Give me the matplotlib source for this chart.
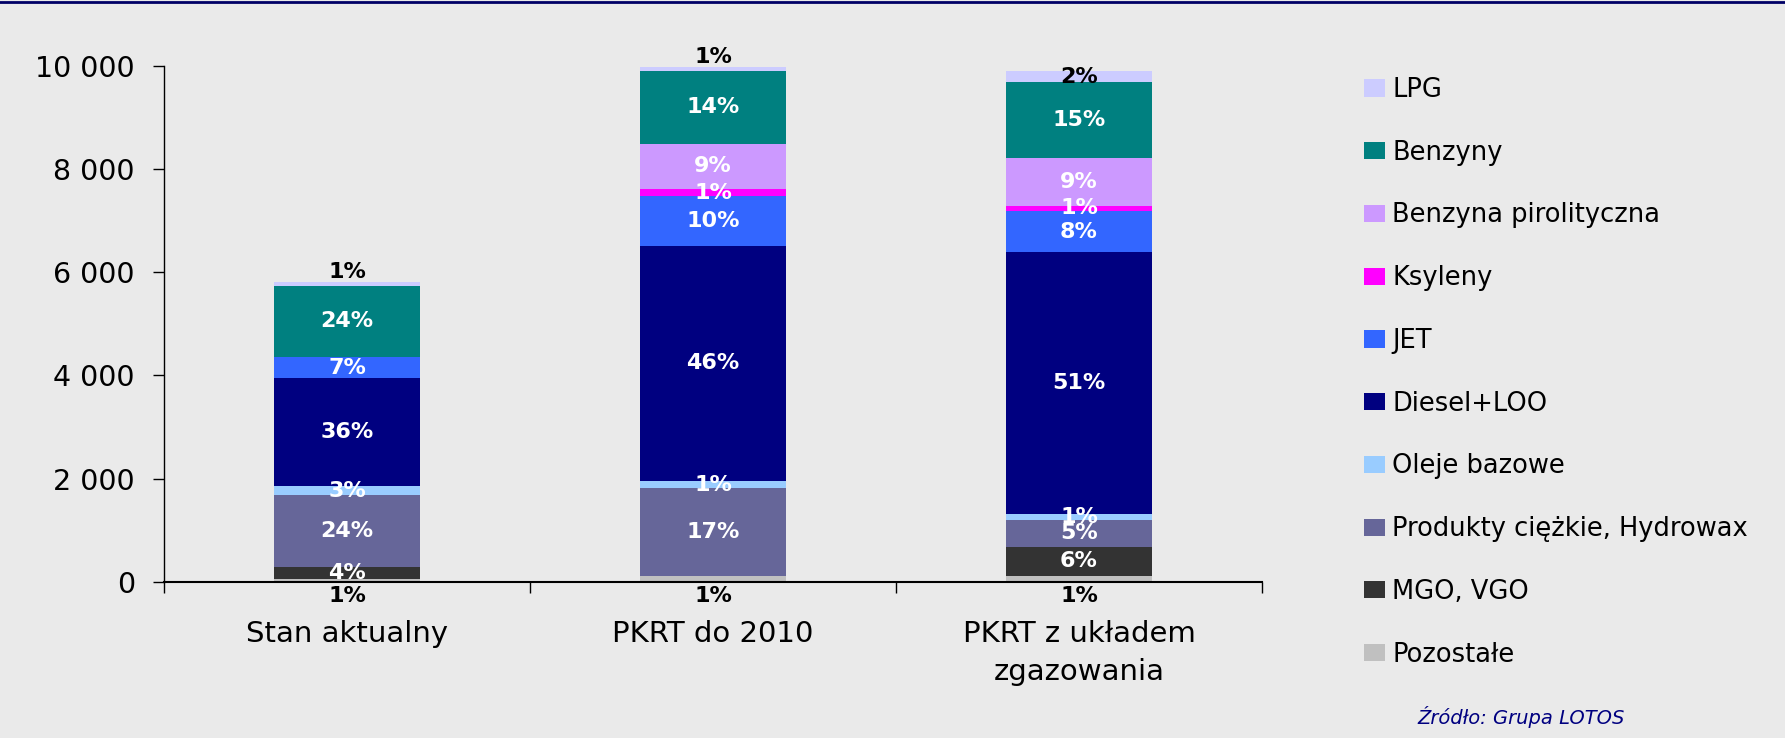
import matplotlib
matplotlib.use("Agg")
import matplotlib.pyplot as plt
import numpy as np
from matplotlib.patches import Patch
from matplotlib.lines import Line2D
from matplotlib.ticker import FuncFormatter

# data, stacked bottom -> top
categories = ["Stan aktualny", "PKRT do 2010", "PKRT z układem\nzgazowania"]
series = ["Pozostałe", "MGO, VGO", "Produkty ciężkie, Hydrowax", "Oleje bazowe",
          "Diesel+LOO", "JET", "Ksyleny", "Benzyna pirolityczna", "Benzyny", "LPG"]
pozostale = [60, 110, 110]
mgo_vgo = [230, 0, 570]
produkty = [1390, 1700, 510]
oleje = [170, 140, 130]
diesel = [2090, 4560, 5060]
jet = [420, 960, 800]
ksyleny = [0, 140, 110]
benz_pirol = [0, 880, 920]
benzyny = [1380, 1400, 1470]
lpg = [60, 80, 220]
colors = ["#c0c0c0", "#333333", "#666699", "#99ccff", "#000080",
          "#3366ff", "#ff00ff", "#cc99ff", "#008080", "#ccccff"]
yticks = [0, 2000, 4000, 6000, 8000, 10000]
source = "Źródło: Grupa LOTOS"

values = np.array([pozostale, mgo_vgo, produkty, oleje, diesel, jet,
                   ksyleny, benz_pirol, benzyny, lpg], dtype=float)
totals = values.sum(axis=0)
bg = "#eaeaea"
lab_fs = 16

fig = plt.figure(figsize=(17.85, 7.38), dpi=100, facecolor=bg)
ax = fig.add_axes([164/1785, 1-581.7/738, (1262-164)/1785, (581.7-65.7)/738])
ax.set_facecolor(bg)

x = np.arange(len(categories))
bottom = np.zeros(len(categories))
for i, name in enumerate(series):
    v = values[i]
    ax.bar(x, v, 0.4, bottom=bottom, color=colors[i], label=name, zorder=2)
    for j in range(len(x)):
        if v[j] <= 0:
            continue
        pct = int(round(v[j] / totals[j] * 100))
        txt = f"{pct}%"
        if name == "Pozostałe":
            ax.annotate(txt, (x[j], 0), xytext=(0, -3), textcoords="offset points",
                        ha="center", va="top", fontsize=lab_fs, fontweight="bold", color="black",
                        annotation_clip=False)
        elif name == "LPG":
            if pct < 2:
                ax.annotate(txt, (x[j], bottom[j] + v[j]), xytext=(0, 0), textcoords="offset points",
                            ha="center", va="bottom", fontsize=lab_fs, fontweight="bold", color="black")
            else:
                ax.text(x[j], bottom[j] + v[j]/2, txt, ha="center", va="center",
                        fontsize=lab_fs, fontweight="bold", color="black", zorder=3)
        else:
            ax.text(x[j], bottom[j] + v[j]/2, txt, ha="center", va="center",
                    fontsize=lab_fs, fontweight="bold", color="white", zorder=3)
    bottom += v

ax.set_xlim(-0.5, 2.5)
ax.set_ylim(0, 10000)
ax.set_yticks(yticks)
ax.yaxis.set_major_formatter(FuncFormatter(lambda v, p: f"{int(v):,}".replace(",", " ")))
ax.tick_params(axis="y", labelsize=20.5, length=8, width=1, direction="out", pad=13)
ax.set_xticks(x)
ax.set_xticklabels(categories, fontsize=21, linespacing=1.45)
ax.tick_params(axis="x", which="major", length=0, pad=27.5)
ax.set_xticks([-0.5, 0.5, 1.5, 2.5], minor=True)
ax.tick_params(axis="x", which="minor", length=8, width=1, direction="out")
for s in ["top", "right"]:
    ax.spines[s].set_visible(False)
ax.spines["left"].set_linewidth(1)
ax.spines["bottom"].set_linewidth(1.5)

handles = [Patch(facecolor=c) for c in colors][::-1]
labels = series[::-1]
fig.legend(handles, labels, loc="upper left", bbox_to_anchor=(1364/1785, 1-77/738),
           frameon=False, fontsize=18.5, handlelength=0.8, handleheight=0.65,
           handletextpad=0.3, labelspacing=1.43, borderpad=0, borderaxespad=0)

fig.text(1417/1785, 1-717/738, source, style="italic", color="#000080", fontsize=14, va="center")
fig.add_artist(Line2D([0, 1], [1-1.5/738, 1-1.5/738], transform=fig.transFigure,
                      color="#000066", linewidth=2))

fig.savefig("out.png", dpi=100, facecolor=bg)
